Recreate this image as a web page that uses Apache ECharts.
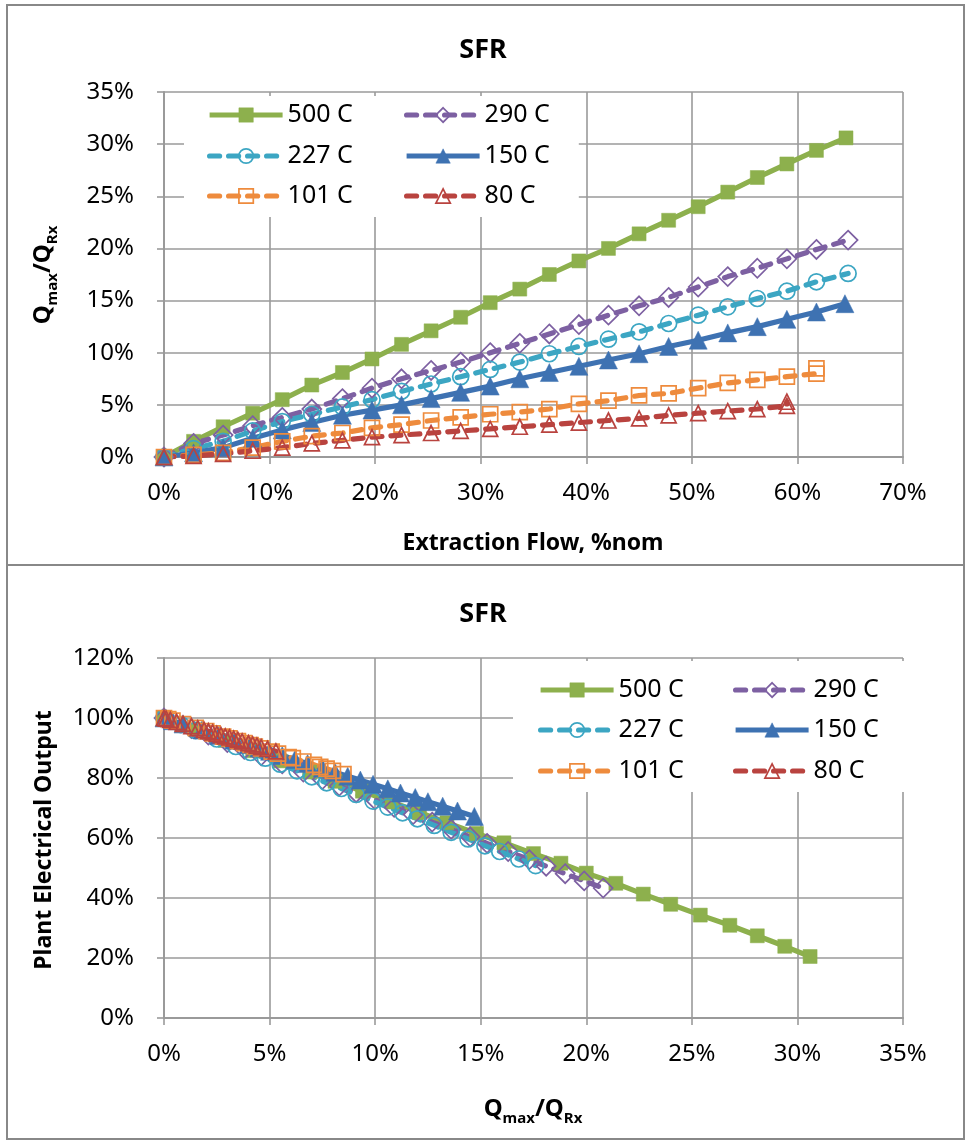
<!DOCTYPE html>
<html><head><meta charset="utf-8">
<script src="https://cdn.jsdelivr.net/npm/echarts@6/dist/echarts.min.js"></script>
<style>html,body{margin:0;padding:0;background:#fff}#c{width:966px;height:1141px}</style>
</head><body><div id="c"></div>
<script>
// ---------- DATA ----------
const seriesNames = ['500 C', '290 C', '227 C', '150 C', '101 C', '80 C'];

// Top chart: extraction flow (%nom) -> Qmax/QRx (%)
const flow500 = [0,2.8,5.6,8.4,11.2,14.0,16.9,19.7,22.5,25.3,28.1,30.9,33.7,36.5,39.3,42.1,45.0,47.8,50.6,53.4,56.2,59.0,61.8,64.6];
const flow290 = [0,2.8,5.6,8.4,11.2,14.0,16.9,19.7,22.5,25.3,28.1,30.9,33.7,36.5,39.3,42.1,45.0,47.8,50.6,53.4,56.2,59.0,61.8,64.8];
const flow227 = [0,2.8,5.6,8.4,11.2,14.0,16.9,19.7,22.5,25.3,28.1,30.9,33.7,36.5,39.3,42.1,45.0,47.8,50.6,53.4,56.2,59.0,61.8,64.8];
const flow150 = [0,2.8,5.6,8.4,11.2,14.0,16.9,19.7,22.5,25.3,28.1,30.9,33.7,36.5,39.3,42.1,45.0,47.8,50.6,53.4,56.2,59.0,61.8,64.5];
const flow101 = [0,2.8,5.6,8.4,11.2,14.0,16.9,19.7,22.5,25.3,28.1,30.9,33.7,36.5,39.3,42.1,45.0,47.8,50.6,53.4,56.2,59.0,61.8,61.8];
const flow80  = [0,2.8,5.6,8.4,11.2,14.0,16.9,19.7,22.5,25.3,28.1,30.9,33.7,36.5,39.3,42.1,45.0,47.8,50.6,53.4,56.2,59.0,59.0];

const q500 = [0,1.5,2.9,4.2,5.5,6.9,8.1,9.4,10.8,12.1,13.4,14.8,16.1,17.5,18.8,20.0,21.4,22.7,24.0,25.4,26.8,28.1,29.4,30.6];
const q290 = [0,1.3,2.1,3.0,3.8,4.6,5.6,6.6,7.5,8.3,9.1,10.0,10.9,11.8,12.7,13.6,14.5,15.3,16.3,17.3,18.1,19.0,19.9,20.8];
const q227 = [0,0.8,1.5,2.5,3.4,4.1,4.8,5.5,6.3,7.0,7.7,8.4,9.1,9.9,10.6,11.3,12.0,12.8,13.6,14.4,15.2,15.9,16.8,17.6];
const q150 = [0,0.4,0.9,1.8,2.6,3.3,4.0,4.5,5.0,5.6,6.2,6.8,7.5,8.1,8.7,9.3,9.9,10.6,11.2,11.9,12.5,13.2,13.9,14.7];
const q101 = [0,0.2,0.4,0.9,1.5,2.0,2.3,2.8,3.1,3.5,3.8,4.1,4.3,4.6,5.1,5.4,5.9,6.1,6.6,7.1,7.4,7.7,8.0,8.5];
const q80  = [0,0.1,0.3,0.6,0.9,1.3,1.6,1.9,2.1,2.3,2.5,2.7,2.9,3.1,3.3,3.5,3.7,4.0,4.2,4.4,4.6,4.9,5.3];

// Bottom chart: Qmax/QRx (%) -> plant electrical output (%)
const out500 = [100,96.1,92.5,89.1,85.7,82.0,78.9,75.6,72.0,68.5,65.1,61.5,58.4,54.8,51.6,48.3,44.9,41.3,37.9,34.3,30.9,27.4,23.9,20.5];
const out290 = [100,96.5,94.3,91.8,89.6,87.4,84.7,82.0,79.5,77.3,75.1,72.7,70.2,67.8,65.3,62.9,60.4,58.2,55.5,52.8,50.6,48.1,45.7,43.3];
const out227 = [100,97.8,95.8,93.0,90.5,88.5,86.6,84.6,82.4,80.4,78.4,76.5,74.5,72.3,70.3,68.4,66.4,64.2,61.9,59.7,57.4,55.5,53.0,50.8];
const out150 = [100,99.1,98.0,96.0,94.2,92.6,91.1,90.0,88.9,87.5,86.2,84.8,83.3,81.9,80.6,79.3,77.9,76.4,75.0,73.5,72.1,70.6,69.0,67.2];
const out101 = [100,99.6,99.1,98.0,96.7,95.6,94.9,93.8,93.2,92.3,91.6,91.0,90.5,89.9,88.8,88.1,87.0,86.6,85.5,84.4,83.7,83.1,82.4,81.3];
const out80  = [100,99.8,99.4,98.7,98.1,97.3,96.6,96.0,95.6,95.2,94.7,94.3,93.9,93.5,93.1,92.7,92.2,91.6,91.2,90.8,90.3,89.7,88.9];

const topX = {min:0, max:70, interval:10};
const topY = {min:0, max:35, interval:5};
const botX = {min:0, max:35, interval:5};
const botY = {min:0, max:120, interval:20};

// ---------- STYLE ----------
const FONT = 'Noto Sans';
const LW = 5.2;
const DASH = [10, 9];
const styles = {
  '500 C': {color:'#8DB04D', symbol:'rect',     size:14, dashed:false, open:false},
  '290 C': {color:'#7D60A2', symbol:'diamond',  size:19, dashed:true,  open:true},
  '227 C': {color:'#3CA6C3', symbol:'circle',   size:16, dashed:true,  open:true},
  '150 C': {color:'#3E72B2', symbol:'triangle', size:18, dashed:false, open:false},
  '101 C': {color:'#EE8B3D', symbol:'rect',     size:15, dashed:true,  open:true},
  '80 C':  {color:'#B9433F', symbol:'triangle', size:15, dashed:true,  open:true}
};
const topPairs = {'500 C':[flow500,q500],'290 C':[flow290,q290],'227 C':[flow227,q227],'150 C':[flow150,q150],'101 C':[flow101,q101],'80 C':[flow80,q80]};
const botPairs = {'500 C':[q500,out500],'290 C':[q290,out290],'227 C':[q227,out227],'150 C':[q150,out150],'101 C':[q101,out101],'80 C':[q80,out80]};

function zip(a,b){return a.map((v,i)=>[v,b[i]]);}
function lineStyleOf(s){
  return {color:s.color, width:LW, type: s.dashed ? DASH : 'solid', cap: s.dashed ? 'round':'butt'};
}
function itemStyleOf(s){
  return s.open ? {color:'rgba(255,255,255,0)', borderColor:s.color, borderWidth:1.7}
                : {color:s.color, borderColor:s.color, borderWidth:0.5};
}
function mkSeries(name, pair, idx){
  const s = styles[name];
  return {
    name, type:'line', xAxisIndex:idx, yAxisIndex:idx,
    data: zip(pair[0], pair[1]),
    symbol: s.symbol, symbolSize: s.size, showAllSymbol:true,
    lineStyle: lineStyleOf(s), itemStyle: itemStyleOf(s),
    emphasis:{disabled:true}, animation:false, z:2
  };
}
const series = [];
seriesNames.forEach(n=>series.push(mkSeries(n, topPairs[n], 0)));
seriesNames.forEach(n=>series.push(mkSeries(n, botPairs[n], 1)));

const gridLine = {show:true, lineStyle:{color:'#9a9a9a', width:1.6}};
const axLine = {show:true, lineStyle:{color:'#9a9a9a', width:2}};
const axTick = {show:true, inside:false, length:7, lineStyle:{color:'#9a9a9a', width:1.6}};
const lbl = {color:'#000', fontFamily:FONT, fontSize:24, formatter:'{value}%'};

function mkAxis(cfg, idx, isX){
  return Object.assign({type:'value', gridIndex:idx, splitLine:gridLine, axisLine:axLine, axisTick:axTick,
    axisLabel:Object.assign({}, lbl, {margin: isX ? 24 : 30}), position: isX ? 'bottom':'left'}, cfg);
}

// legends
function legendSet(boxX, boxY, boxR, boxB, colXs, rowYs){
  const out = [];
  const order = [['500 C','290 C'],['227 C','150 C'],['101 C','80 C']];
  const textW = 66, iconW = 73, ih = 25;
  order.forEach((row, r)=>{
    row.forEach((name, c)=>{
      const s = styles[name];
      const L = {
        data:[name], selectedMode:false, itemWidth:iconW, itemHeight:18, itemGap:0,
        lineStyle: lineStyleOf(s), itemStyle: itemStyleOf(s),
        textStyle:{color:'#000', fontFamily:FONT, fontSize:25},
        left: colXs[c], top: rowYs[r] - ih/2, padding:0, z:5
      };
      if (r===0 && c===0){
        const pl = colXs[0]-boxX, pt = rowYs[0]-ih/2-boxY;
        const pr = boxR-(colXs[0]+iconW+5+textW), pb = boxB-(rowYs[0]+ih/2);
        L.left = boxX; L.top = boxY; L.padding = [pt, pr, pb, pl];
        L.backgroundColor = '#fff'; L.z = 4;
      }
      out.push(L);
    });
  });
  return out;
}
const legends = legendSet(184, 96, 577, 217, [207, 404], [115, 156, 196])
  .concat(legendSet(513, 661, 905, 792, [538, 733], [690, 730, 771]));

// rich text for Q_max/Q_Rx
const qRich = {
  b:{fontFamily:FONT, fontWeight:'bold', fontSize:24, lineHeight:26, verticalAlign:'top', fill:'#000'},
  s:{fontFamily:FONT, fontWeight:'bold', fontSize:15, lineHeight:16, verticalAlign:'top', padding:[14,0,0,0], fill:'#000'}
};
const qText = '{b|Q}{s|max}{b|/Q}{s|Rx}';

const option = {
  animation:false,
  backgroundColor:'#fff',
  title:[
    {text:'SFR', left:'center', top:32, textStyle:{fontFamily:FONT, fontWeight:'bold', fontSize:27, color:'#000'}},
    {text:'SFR', left:'center', top:596, textStyle:{fontFamily:FONT, fontWeight:'bold', fontSize:27, color:'#000'}}
  ],
  grid:[
    {left:164, top:92, width:739, height:365, containLabel:false},
    {left:164, top:658, width:739, height:360, containLabel:false}
  ],
  xAxis:[mkAxis(topX,0,true), mkAxis(botX,1,true)],
  yAxis:[mkAxis(topY,0,false), mkAxis(botY,1,false)],
  legend: legends,
  series,
  graphic:[
    {type:'rect', z:-1, shape:{x:7, y:5, width:957, height:560}, style:{fill:'none', stroke:'#888', lineWidth:2}},
    {type:'rect', z:-1, shape:{x:7, y:565, width:957, height:574}, style:{fill:'none', stroke:'#888', lineWidth:2}},
    {type:'text', x:44, y:275, rotation:Math.PI/2, style:{text:qText, rich:qRich, align:'center', verticalAlign:'middle'}},
    {type:'text', x:533, y:543, style:{text:'Extraction Flow, %nom', fontFamily:FONT, fontWeight:'bold', fontSize:23, fill:'#000', align:'center', verticalAlign:'middle'}},
    {type:'text', x:44, y:840, rotation:Math.PI/2, style:{text:'Plant Electrical Output', fontFamily:FONT, fontWeight:'bold', fontSize:23, fill:'#000', align:'center', verticalAlign:'middle'}},
    {type:'text', x:533, y:1110, style:{text:qText, rich:qRich, align:'center', verticalAlign:'middle'}}
  ]
};
const chart = echarts.init(document.getElementById('c'), null, {renderer:'canvas'});
chart.setOption(option);
</script></body></html>
